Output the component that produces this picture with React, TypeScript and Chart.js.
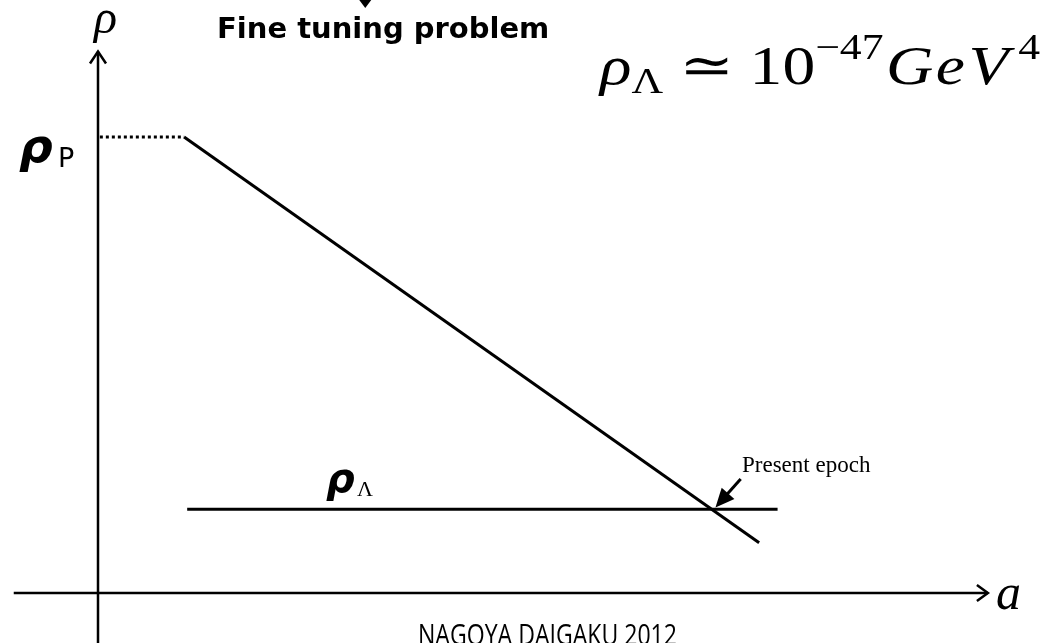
import React, { useEffect, useRef } from "react";
import { Chart, registerables } from "chart.js";

Chart.register(...registerables);

// ---- data (a = scale factor, rho = energy density; schematic units) ----
const aAxisA = [-1.37, 14.47];
const aAxisRho = [0, 0];
const rhoAxisA = [0, 0];
const rhoAxisRho = [-0.95, 9.5];
const planckA = [0.03, 1.4];
const planckRho = [8, 8];
const vacuumA = [1.4, 10.75];
const vacuumRho = [8, 0.88];
const lambdaA = [1.45, 11.05];
const lambdaRho = [1.47, 1.47];
const epochArrowA = [10.45, 10.04];
const epochArrowRho = [2.0, 1.5];

const W = 1051;
const H = 643;

const pts = (xs: number[], ys: number[]) => xs.map((x, i) => ({ x, y: ys[i] }));

// draw text pieces horizontally scaled so the whole run spans a target width
// each piece: [text, font, baselineShift, gapAfter]
function drawStretched(
  ctx: CanvasRenderingContext2D,
  parts: [string, string, number, number][],
  x0: number,
  baseline: number,
  targetWidth: number
) {
  let total = 0;
  for (const [t, f, , g] of parts) {
    ctx.font = f;
    total += ctx.measureText(t).width + g;
  }
  const sx = targetWidth / total;
  ctx.save();
  ctx.translate(x0, baseline);
  ctx.scale(sx, 1);
  let cx = 0;
  for (const [t, f, dy, g] of parts) {
    ctx.font = f;
    ctx.fillText(t, cx, dy);
    cx += ctx.measureText(t).width + g;
  }
  ctx.restore();
}

const decorPlugin = {
  id: "diagramDecor",
  afterDatasetsDraw(chart: any) {
    const ctx: CanvasRenderingContext2D = chart.ctx;
    const xs = chart.scales.x;
    const ys = chart.scales.y;
    const px = (v: number) => xs.getPixelForValue(v);
    const py = (v: number) => ys.getPixelForValue(v);
    ctx.save();
    ctx.strokeStyle = "#000";
    ctx.fillStyle = "#000";
    ctx.lineWidth = 2.5;
    ctx.lineCap = "butt";
    ctx.lineJoin = "miter";

    // vertical axis arrowhead (open)
    const vx = px(rhoAxisA[1]);
    const vy = py(rhoAxisRho[1]);
    ctx.beginPath();
    ctx.moveTo(vx - 8, vy + 12);
    ctx.lineTo(vx, vy);
    ctx.lineTo(vx + 8, vy + 12);
    ctx.stroke();

    // horizontal axis arrowhead (open)
    const hx = px(aAxisA[1]);
    const hy = py(aAxisRho[1]);
    ctx.beginPath();
    ctx.moveTo(hx - 11, hy - 8);
    ctx.lineTo(hx, hy);
    ctx.lineTo(hx - 11, hy + 8);
    ctx.stroke();

    // present epoch arrow
    const x1 = px(epochArrowA[0]);
    const y1 = py(epochArrowRho[0]);
    const x2 = px(epochArrowA[1]);
    const y2 = py(epochArrowRho[1]);
    const ang = Math.atan2(y2 - y1, x2 - x1);
    const hl = 19;
    const hw = 8.5;
    ctx.lineWidth = 3;
    ctx.beginPath();
    ctx.moveTo(x1, y1);
    ctx.lineTo(x2 - Math.cos(ang) * hl * 0.8, y2 - Math.sin(ang) * hl * 0.8);
    ctx.stroke();
    ctx.beginPath();
    ctx.moveTo(x2, y2);
    ctx.lineTo(x2 - Math.cos(ang) * hl - Math.sin(ang) * hw, y2 - Math.sin(ang) * hl + Math.cos(ang) * hw);
    ctx.lineTo(x2 - Math.cos(ang) * hl + Math.sin(ang) * hw, y2 - Math.sin(ang) * hl - Math.cos(ang) * hw);
    ctx.closePath();
    ctx.fill();

    // ---- texts ----
    ctx.textBaseline = "alphabetic";
    ctx.textAlign = "left";

    // title
    const title = "Fine tuning problem";
    ctx.font = "bold 29px 'DejaVu Sans'";
    const tx = 217;
    ctx.fillText(title, tx, 38);
    const triX = tx + ctx.measureText("Fine tuni").width + 3;
    ctx.beginPath();
    ctx.moveTo(triX - 6, 0);
    ctx.lineTo(triX + 6, 0);
    ctx.lineTo(triX, 8);
    ctx.closePath();
    ctx.fill();

    // rho axis label
    ctx.font = "italic 48px 'Liberation Serif'";
    ctx.fillText("ρ", 94, 33);

    // a axis label
    ctx.font = "italic 50px 'Liberation Serif'";
    ctx.fillText("a", 996, 609);

    // rho_P label
    const pyP = py(planckRho[0]);
    ctx.font = "italic bold 47px 'DejaVu Sans'";
    ctx.fillText("ρ", 19, pyP + 25);
    ctx.font = "27px 'DejaVu Sans'";
    ctx.fillText("P", 58, pyP + 30);

    // rho_Lambda label
    const ly = py(lambdaRho[0]);
    ctx.font = "italic bold 40px 'DejaVu Sans'";
    ctx.fillText("ρ", 326, ly - 17);
    ctx.font = "22px 'Liberation Serif'";
    ctx.fillText("Λ", 357, ly - 13);

    // present epoch
    ctx.font = "23px 'Liberation Serif'";
    ctx.fillText("Present epoch", 742, 472);

    // formula: rho_Lambda ≃ 10^{-47} GeV^4 (stretched like the slide image)
    const big = 54;
    const small = 36;
    drawStretched(
      ctx,
      [
        ["ρ", `italic ${big}px 'Liberation Serif'`, 0, 0],
        ["Λ", `${small}px 'Liberation Serif'`, 9, 13],
        ["≃", `${big}px 'DejaVu Serif'`, 0, 13],
        ["10", `${big}px 'Liberation Serif'`, 0, 0],
        ["−47", `${small}px 'Liberation Serif'`, -25, 2],
        ["G", `italic ${big}px 'Liberation Serif'`, 0, 2],
        ["e", `italic ${big}px 'Liberation Serif'`, 0, 3],
        ["V", `italic ${big}px 'Liberation Serif'`, 0, 8],
        ["4", `${small}px 'Liberation Serif'`, -25, 0],
      ],
      600,
      84,
      440
    );

    // footer (condensed)
    drawStretched(ctx, [["NAGOYA DAIGAKU 2012", "30px 'Open Sans'", 0, 0]], 418, 645, 259);

    ctx.restore();
  },
};

export default function App() {
  const ref = useRef<HTMLCanvasElement>(null);
  useEffect(() => {
    if (!ref.current) return;
    const line = (data: any, extra: any = {}) => ({
      data,
      showLine: true,
      borderColor: "#000",
      borderWidth: 2.5,
      pointRadius: 0,
      fill: false,
      tension: 0,
      clip: false,
      ...extra,
    });
    const chart = new Chart(ref.current, {
      type: "scatter",
      data: {
        datasets: [
          line(pts(aAxisA, aAxisRho)),
          line(pts(rhoAxisA, rhoAxisRho)),
          line(pts(planckA, planckRho), { borderDash: [3, 3], borderWidth: 3 }),
          line(pts(vacuumA, vacuumRho), { borderWidth: 3 }),
          line(pts(lambdaA, lambdaRho), { borderWidth: 3 }),
        ],
      },
      options: {
        animation: false,
        responsive: false,
        devicePixelRatio: 1,
        layout: { padding: 0 },
        plugins: { legend: { display: false }, tooltip: { enabled: false }, title: { display: false } },
        scales: {
          x: { type: "linear", display: false, min: -98 / 61.5, max: (W - 98) / 61.5 },
          y: { type: "linear", display: false, min: -50 / 57, max: 593 / 57 },
        },
      },
      plugins: [decorPlugin],
    });
    return () => chart.destroy();
  }, []);
  return (
    <div style={{ position: "fixed", left: 0, top: 0, width: W, height: H, background: "#fff" }}>
      <canvas ref={ref} width={W} height={H} style={{ display: "block" }} />
    </div>
  );
}
